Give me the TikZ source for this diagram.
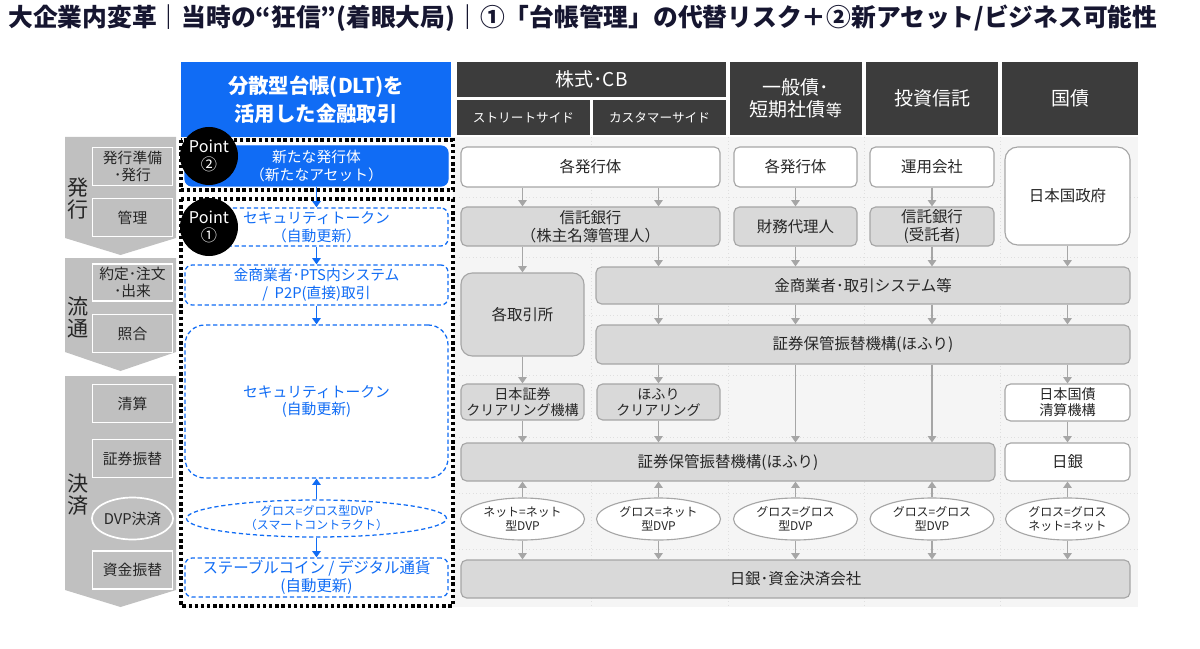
\documentclass[tikz,border=0pt]{standalone}
\usepackage{fontspec}
\setmainfont{Noto Sans CJK JP}
\usetikzlibrary{arrows.meta, shapes.geometric}

\definecolor{titlenavy}{RGB}{22,22,48}
\definecolor{dltblue}{RGB}{16,108,245}
\definecolor{headgray}{RGB}{60,60,60}
\definecolor{boxgray}{RGB}{217,217,217}
\definecolor{linegray}{RGB}{166,166,166}
\definecolor{stepgray}{RGB}{192,192,192}
\definecolor{bggray}{RGB}{245,245,245}
\definecolor{txtgray}{RGB}{38,38,38}

\begin{document}
\begin{tikzpicture}[x = 0.025cm, y = -0.025cm, > = {Triangle[width = 6pt, length = 4.5pt]},
	sz/.style 2 args = {minimum width = #1*0.025cm, minimum height = #2*0.025cm},
	head/.style = {fill = headgray, text = white, inner sep = 0, align = center, font = \fontsize{13.5}{16}\selectfont},
	subhead/.style = {head, font = \fontsize{9}{11}\selectfont},
	wbox/.style = {draw = linegray, fill = white, line width = 0.8pt, rounded corners = 4pt, inner sep = 0, align = center, text = txtgray, font = \fontsize{11}{13}\selectfont},
	gbox/.style = {wbox, fill = boxgray},
	dvp/.style = {ellipse, draw = linegray, fill = white, line width = 0.8pt, inner sep = 0, align = center, text = txtgray, font = \fontsize{8.5}{10}\selectfont},
	dltbox/.style = {draw = dltblue, fill = white, line width = 0.9pt, dash pattern = on 3pt off 2pt, rounded corners = 5pt, inner sep = 0, align = center, text = dltblue, font = \fontsize{10.5}{12.5}\selectfont},
	tag/.style = {fill = stepgray, draw = white, line width = 1.2pt, inner sep = 0, align = center, text = txtgray, font = \fontsize{10.5}{12.5}\selectfont},
	grouplabel/.style = {inner sep = 0, align = center, text = txtgray, font = \fontsize{15}{15.6}\selectfont},
	pointmark/.style = {circle, fill = black, text = white, inner sep = 0, align = center, minimum size = 58*0.025cm, font = \fontsize{11.5}{13}\selectfont},
	dotframe/.style = {draw = black, line width = 2.4pt, dash pattern = on 2.4pt off 2pt},
	garrow/.style = {->, draw = linegray, line width = 0.9pt},
	barrow/.style = {->, draw = dltblue, line width = 1.1pt}]

	\useasboundingbox (0, 0) rectangle (1200, 649);

	% Title

	\node [anchor = west, text = titlenavy, inner sep = 0, font = \fontsize{17.6}{19}\selectfont\bfseries] (title) at (8, 18)
		{大企業内変革｜当時の“狂信”(着眼大局)｜①「台帳管理」の代替リスク＋②新アセット/ビジネス可能性};

	% Background + grid

	\fill [bggray] (181, 137) rectangle (1138, 607);

	\foreach \y in {197, 257, 315, 375, 437, 493, 549}
		\draw [gray!25, line width = 0.5pt, dotted] (181, \y) -- (1138, \y);
	\foreach \x in {591, 728, 864, 1000}
		\draw [gray!25, line width = 0.5pt, dotted] (\x, 137) -- (\x, 607);

	% Headers

	\node [head, sz = {270}{75}, fill = dltblue, font = \fontsize{14.5}{20}\selectfont\bfseries] (hdlt) at (316, 99.5) {分散型台帳(DLT)を\\活用した金融取引};
	\node [head, sz = {269}{35}] (hstock) at (591.5, 79.5) {株式･CB};
	\node [subhead, sz = {133}{35}] (hstreet) at (523.5, 117.5) {ストリートサイド};
	\node [subhead, sz = {133}{35}] (hcust) at (659.5, 117.5) {カスタマーサイド};
	\node [head, sz = {132}{73}] (hbond) at (796, 98.5) {一般債･\\短期社債{\fontsize{11.5}{16}\selectfont 等}};
	\node [head, sz = {132}{73}] (hfund) at (932, 98.5) {投資信託};
	\node [head, sz = {136}{73}] (hjgb) at (1070, 98.5) {国債};

	% Left steps

	\fill [stepgray] (65, 137) -- (176, 137) -- (176, 238) -- (120.5, 255) -- (65, 238) -- cycle;
	\fill [stepgray] (65, 258) -- (176, 258) -- (176, 352) -- (120.5, 371) -- (65, 352) -- cycle;
	\fill [stepgray] (65, 376) -- (176, 376) -- (176, 590) -- (120.5, 607) -- (65, 590) -- cycle;

	\node [grouplabel] (g1) at (78, 199) {発\\行};
	\node [grouplabel] (g2) at (78, 317) {流\\通};
	\node [grouplabel] (g3) at (78, 495) {決\\済};

	\node [tag, sz = {80}{38}] (tprep) at (132.5, 166.5) {発行準備\\･発行};
	\node [tag, sz = {80}{38}] (tmgmt) at (132.5, 217.5) {管理};
	\node [tag, sz = {80}{37}] (ttrade) at (132.5, 282.5) {約定･注文\\･出来};
	\node [tag, sz = {80}{38}] (tmatch) at (132.5, 333.5) {照合};
	\node [tag, sz = {80}{38}] (tclear) at (132.5, 403.5) {清算};
	\node [tag, sz = {80}{38}] (tsec) at (132.5, 458.5) {証券振替};
	\node [tag, ellipse, sz = {80}{42}] (tdvp) at (132.5, 518.5) {DVP決済};
	\node [tag, sz = {80}{38}] (tcash) at (132.5, 570) {資金振替};

	% DLT column

	\fill [white] (181, 140) rectangle (453, 606);
	\draw [dotframe] (181, 140) rectangle (453, 190);
	\draw [dotframe] (181, 199) rectangle (453, 606);

	\node [dltbox, sz = {263}{40}, fill = dltblue, text = white, solid] (dnew) at (316.5, 166) {新たな発行体\\（新たなアセット）};
	\node [dltbox, sz = {263}{38}] (dtok) at (316.5, 227) {セキュリティトークン\\（自動更新）};
	\node [dltbox, sz = {263}{40}] (dpts) at (316.5, 285) {金商業者･PTS内システム\\/\ \ P2P(直接)取引};
	\node [dltbox, sz = {263}{153}, rounded corners = 14pt] (dtok2) at (316.5, 401.5) {セキュリティトークン\\(自動更新)};
	\node [dltbox, ellipse, sz = {260}{37}, font = \fontsize{8.5}{10}\selectfont] (ddvp) at (316.5, 518.5) {グロス=グロス型DVP\\（スマートコントラクト）};
	\node [dltbox, sz = {263}{39}, font = \fontsize{11}{13}\selectfont] (dcoin) at (316.5, 577.5) {ステーブルコイン / デジタル通貨\\(自動更新)};

	\draw [barrow] (dnew) -- (dtok);
	\draw [barrow] (dtok) -- (dpts);
	\draw [barrow] (dpts) -- (dtok2);
	\draw [barrow] (ddvp) -- (dtok2);
	\draw [barrow] (ddvp) -- (dcoin);

	\node [pointmark] (p2) at (209, 156) {Point\\②};
	\node [pointmark] (p1) at (209, 227) {Point\\①};

	% Existing flow

	\coordinate (c1) at (522.5, 0);
	\coordinate (c2) at (658.5, 0);
	\coordinate (c3) at (795.5, 0);
	\coordinate (c4) at (932, 0);
	\coordinate (c5) at (1067.5, 0);

	\node [wbox, sz = {259}{40}] (iss1) at (590.5, 167) {各発行体};
	\node [wbox, sz = {123}{40}] (iss2) at (795.5, 167) {各発行体};
	\node [wbox, sz = {124}{40}] (iss3) at (932, 167) {運用会社};
	\node [wbox, sz = {125}{98}, rounded corners = 9pt] (gov) at (1067.5, 196) {日本国政府};

	\node [gbox, sz = {259}{39}] (trust1) at (590.5, 226.5) {信託銀行\\（株主名簿管理人）};
	\node [gbox, sz = {123}{39}] (agent) at (795.5, 226.5) {財務代理人};
	\node [gbox, sz = {124}{39}] (trust2) at (932, 226.5) {信託銀行\\(受託者)};

	\node [gbox, sz = {123}{83}, rounded corners = 8pt] (exch) at (522.5, 314.5) {各取引所};
	\node [gbox, sz = {534}{37}] (broker) at (863, 285.5) {金商業者･取引システム等};
	\node [gbox, sz = {534}{39}] (jasdec1) at (863, 344.5) {証券保管振替機構(ほふり)};

	\node [gbox, sz = {123}{36}, font = \fontsize{10}{11.5}\selectfont] (jscc) at (522.5, 402) {日本証券\\クリアリング機構};
	\node [gbox, sz = {123}{36}, font = \fontsize{10}{11.5}\selectfont] (jdcc) at (658.5, 402) {ほふり\\クリアリング};
	\node [wbox, sz = {125}{37}, font = \fontsize{10}{11.5}\selectfont] (jgbcc) at (1067.5, 402.5) {日本国債\\清算機構};

	\node [gbox, sz = {534}{38}] (jasdec2) at (728, 462) {証券保管振替機構(ほふり)};
	\node [wbox, sz = {125}{38}] (boj) at (1067.5, 462) {日銀};

	\node [dvp, sz = {124}{42}] (v1) at (522.5, 519) {ネット=ネット\\型DVP};
	\node [dvp, sz = {124}{42}] (v2) at (658.5, 519) {グロス=ネット\\型DVP};
	\node [dvp, sz = {124}{42}] (v3) at (795.5, 519) {グロス=グロス\\型DVP};
	\node [dvp, sz = {124}{42}] (v4) at (932, 519) {グロス=グロス\\型DVP};
	\node [dvp, sz = {124}{42}] (v5) at (1067.5, 519) {グロス=グロス\\ネット=ネット};

	\node [gbox, sz = {669}{38}] (cash) at (795.5, 579) {日銀･資金決済会社};

	% Arrows

	\draw [garrow] (iss1.south -| c1) -- (trust1.north -| c1);
	\draw [garrow] (iss1.south -| c2) -- (trust1.north -| c2);
	\draw [garrow] (iss2) -- (agent);
	\draw [garrow] (iss3) -- (trust2);

	\draw [garrow] (trust1.south -| c1) -- (exch);
	\draw [garrow] (trust1.south -| c2) -- (broker.north -| c2);
	\draw [garrow] (agent) -- (broker.north -| c3);
	\draw [garrow] (trust2) -- (broker.north -| c4);
	\draw [garrow] (gov) -- (broker.north -| c5);

	\foreach \c in {c2, c3, c4, c5}
		\draw [garrow] (broker.south -| \c) -- (jasdec1.north -| \c);

	\draw [garrow] (exch) -- (jscc);
	\draw [garrow] (jasdec1.south -| c2) -- (jdcc);
	\draw [garrow] (jasdec1.south -| c3) -- (jasdec2.north -| c3);
	\draw [garrow] (jasdec1.south -| c4) -- (jasdec2.north -| c4);
	\draw [garrow] (jasdec1.south -| c5) -- (jgbcc);

	\draw [garrow] (jscc) -- (jasdec2.north -| c1);
	\draw [garrow] (jdcc) -- (jasdec2.north -| c2);
	\draw [garrow] (jgbcc) -- (boj);

	\foreach \c/\v in {c1/v1, c2/v2, c3/v3, c4/v4} {
		\draw [garrow] (\v) -- (jasdec2.south -| \c);
		\draw [garrow] (\v) -- (cash.north -| \c);
	}
	\draw [garrow] (v5) -- (boj);
	\draw [garrow] (v5) -- (cash.north -| c5);

\end{tikzpicture}
\end{document}
